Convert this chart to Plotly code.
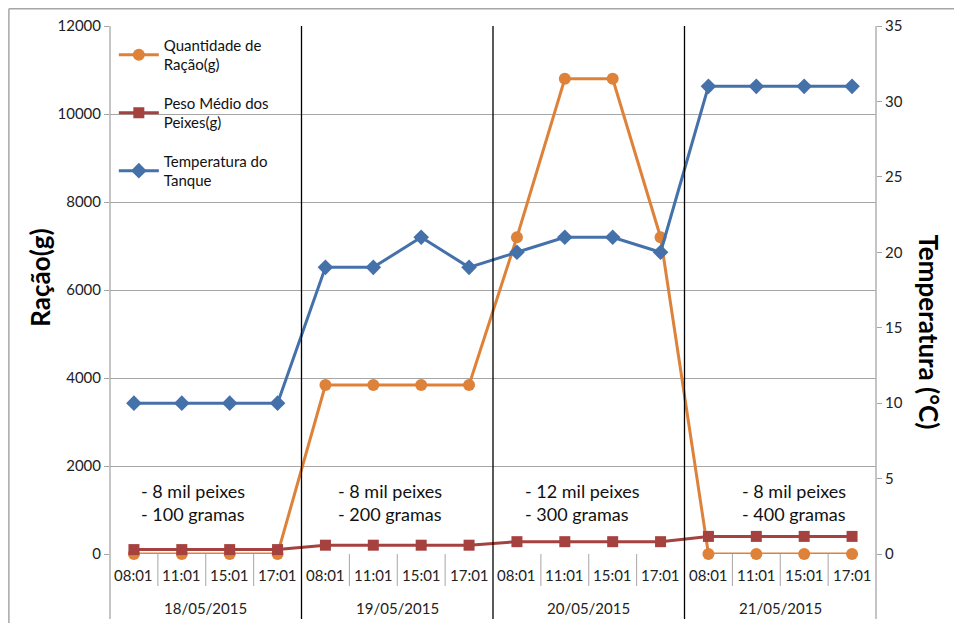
import plotly.graph_objects as go

times = ["08:01", "11:01", "15:01", "17:01"] * 4
dates = ["18/05/2015", "19/05/2015", "20/05/2015", "21/05/2015"]
racao = [0, 0, 0, 0, 3840, 3840, 3840, 3840, 7200, 10800, 10800, 7200, 0, 0, 0, 0]
peso = [100, 100, 100, 100, 200, 200, 200, 200, 280, 280, 280, 280, 400, 400, 400, 400]
temperatura = [10, 10, 10, 10, 19, 19, 21, 19, 20, 21, 21, 20, 31, 31, 31, 31]
notas = ["- 8 mil peixes<br>- 100 gramas", "- 8 mil peixes<br>- 200 gramas",
         "- 12 mil peixes<br>- 300 gramas", "- 8 mil peixes<br>- 400 gramas"]
nota_x = [0.1, 4.22, 8.13, 12.65]
y_left_ticks = [0, 2000, 4000, 6000, 8000, 10000, 12000]
y_right_ticks = [0, 5, 10, 15, 20, 25, 30, 35]

FONT = "Lato, Carlito, Calibri, sans-serif"
ORANGE = "#DE8139"
RED = "#A5413E"
BLUE = "#4471A9"
GRID = "#A6A6A6"

xs = list(range(len(times)))

fig = go.Figure()
fig.add_trace(go.Scatter(x=xs, y=racao, name="Quantidade de<br>Ração(g)", mode="lines+markers",
                         line=dict(color=ORANGE, width=3), marker=dict(symbol="circle", size=12, color=ORANGE),
                         legendgroup="a", cliponaxis=False))
fig.add_trace(go.Scatter(x=xs, y=peso, name="Peso Médio dos<br>Peixes(g)", mode="lines+markers",
                         line=dict(color=RED, width=3), marker=dict(symbol="square", size=11, color=RED),
                         legendgroup="b", cliponaxis=False))
fig.add_trace(go.Scatter(x=xs, y=temperatura, name="Temperatura do<br>Tanque", mode="lines+markers",
                         line=dict(color=BLUE, width=3), marker=dict(symbol="diamond", size=12, color=BLUE),
                         yaxis="y2", legendgroup="c", cliponaxis=False))

shapes = []
for b in [3.5, 7.5, 11.5]:
    shapes.append(dict(type="line", xref="x", yref="paper", x0=b, x1=b, y0=-0.1231, y1=1,
                       line=dict(color="black", width=1.3)))
for i in range(len(times) - 1):
    if (i + 1) % 4 != 0:
        shapes.append(dict(type="line", xref="x", yref="paper", x0=i + 0.5, x1=i + 0.5, y0=0, y1=-0.0606,
                           line=dict(color=GRID, width=1)))
for px in [0, 1]:
    shapes.append(dict(type="line", xref="paper", yref="paper", x0=px, x1=px, y0=-0.1231, y1=1,
                       line=dict(color=GRID, width=1.3)))
shapes.append(dict(type="line", xref="paper", yref="paper", x0=-0.132, x1=1.2, y0=1.0325, y1=1.0325,
                   line=dict(color=GRID, width=1.5)))
shapes.append(dict(type="line", xref="paper", yref="paper", x0=-0.132, x1=-0.132, y0=1.0325, y1=-0.2,
                   line=dict(color=GRID, width=1.5)))

annotations = []
for i, t in enumerate(times):
    annotations.append(dict(x=i, y=-0.04, xref="x", yref="paper", text=t, showarrow=False,
                            font=dict(size=15, color="#222"), yanchor="middle"))
for g, d in enumerate(dates):
    annotations.append(dict(x=g * 4 + 1.5, y=-0.102, xref="x", yref="paper", text=d, showarrow=False,
                            font=dict(size=15, color="#222"), yanchor="middle"))
for nx, n in zip(nota_x, notas):
    annotations.append(dict(x=nx, y=0.098, xref="x", yref="paper", text=n, showarrow=False, align="left",
                            xanchor="left", yanchor="middle", font=dict(size=18, color="#111")))
annotations.append(dict(x=-0.0915, y=0.523, xref="paper", yref="paper", text="<b>Ração(g)</b>", showarrow=False,
                        textangle=-90, font=dict(size=26, color="black"), xanchor="center", yanchor="middle"))
annotations.append(dict(x=1.069, y=0.42, xref="paper", yref="paper", text="<b>Temperatura (°C)</b>", showarrow=False,
                        textangle=90, font=dict(size=26, color="black"), xanchor="center", yanchor="middle"))

fig.update_layout(
    width=946, height=615,
    margin=dict(l=102, r=78, t=18, b=69, autoexpand=False),
    paper_bgcolor="white", plot_bgcolor="white",
    font=dict(family=FONT, size=15, color="#222"),
    showlegend=True,
    legend=dict(x=0.005, y=0.995, xanchor="left", yanchor="top", bgcolor="rgba(0,0,0,0)",
                font=dict(size=15, color="#111"), tracegroupgap=16, traceorder="grouped",
                itemwidth=40),
    xaxis=dict(range=[-0.5, 15.5], showticklabels=False, showgrid=False, zeroline=False,
               showline=False, ticks="", automargin=False),
    yaxis=dict(range=[0, 12000], tickvals=y_left_ticks, tickformat="d", showgrid=True, gridcolor=GRID,
               gridwidth=1.3, zeroline=False, ticks="outside", ticklen=5, tickcolor=GRID, showline=False,
               tickfont=dict(size=15, color="#222"), automargin=False),
    yaxis2=dict(range=[0, 35], tickvals=y_right_ticks, overlaying="y", side="right", showgrid=False,
                zeroline=False, ticks="outside", ticklen=5, tickcolor=GRID, showline=False,
                tickfont=dict(size=15, color="#222"), automargin=False),
    shapes=shapes,
    annotations=annotations,
)

fig.write_html("out.html")
